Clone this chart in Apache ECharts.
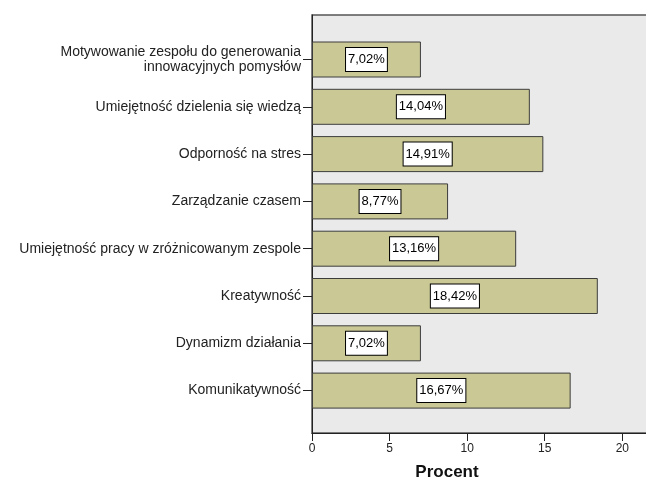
<!DOCTYPE html>
<html><head><meta charset="utf-8">
<script src="https://cdn.jsdelivr.net/npm/echarts@6/dist/echarts.min.js"></script>
<style>html,body{margin:0;padding:0;background:#fff}#c{width:646px;height:479px}</style>
</head><body><div id="c"></div>
<script>
const categories = [
  "Motywowanie zespołu do generowania\ninnowacyjnych pomysłów",
  "Umiejętność dzielenia się wiedzą",
  "Odporność na stres",
  "Zarządzanie czasem",
  "Umiejętność pracy w zróżnicowanym zespole",
  "Kreatywność",
  "Dynamizm działania",
  "Komunikatywność"
];
const values = [7.02, 14.04, 14.91, 8.77, 13.16, 18.42, 7.02, 16.67];
const xTicks = [0, 5, 10, 15, 20];
const xMax = 21.72;
const font = "'Liberation Sans', Arial, sans-serif";

const chart = echarts.init(document.getElementById('c'), null, {renderer: 'canvas'});
chart.setOption({
  animation: false,
  grid: [
    {left: 312, top: 15, right: -3, bottom: 46, show: true, backgroundColor: '#EAEAEA', borderColor: '#555', borderWidth: 1.5,
     containLabel: false, outerBoundsMode: 'none'},
    {left: 312, top: 35.85, right: -3, height: 378.4, containLabel: false, outerBoundsMode: 'none'}
  ],
  xAxis: [
    {gridIndex: 0, type: 'value', min: 0, max: xMax, interval: 5,
     axisLine: {show: true, lineStyle: {color: '#222', width: 1}},
     axisTick: {show: true, length: 8, lineStyle: {color: '#222'}},
     axisLabel: {color: '#222', fontSize: 12, fontFamily: font, margin: 10,
       formatter: v => xTicks.indexOf(v) >= 0 ? String(v) : ''},
     splitLine: {show: false},
     name: 'Procent', nameLocation: 'middle', nameGap: 31,
     nameTextStyle: {color: '#111', fontSize: 17, fontWeight: 'bold', fontFamily: font, padding: [0, 67, 0, 0]}},
    {gridIndex: 1, type: 'value', min: 0, max: xMax, interval: 5, show: false}
  ],
  yAxis: [
    {gridIndex: 0, type: 'value', min: 0, max: 1,
     axisLine: {show: true, lineStyle: {color: '#222', width: 1}},
     axisTick: {show: false}, axisLabel: {show: false}, splitLine: {show: false}},
    {gridIndex: 1, type: 'category', data: categories, inverse: true,
     axisLine: {show: false},
     axisTick: {show: true, alignWithLabel: true, length: 9, lineStyle: {color: '#222'}},
     axisLabel: {color: '#222', fontSize: 14, fontFamily: font, margin: 11, align: 'right', lineHeight: 15}}
  ],
  series: [{
    type: 'bar', xAxisIndex: 1, yAxisIndex: 1, data: values, barWidth: 36,
    itemStyle: {color: '#CAC996', borderColor: '#3c3c3c', borderWidth: 1},
    label: {show: true, position: 'inside', color: '#000', fontSize: 13, fontFamily: font,
      backgroundColor: '#fff', borderColor: '#000', borderWidth: 1, padding: [4, 2, 4, 2], lineHeight: 15,
      formatter: p => p.value.toFixed(2).replace('.', ',') + '%'}
  }]
});
</script></body></html>
